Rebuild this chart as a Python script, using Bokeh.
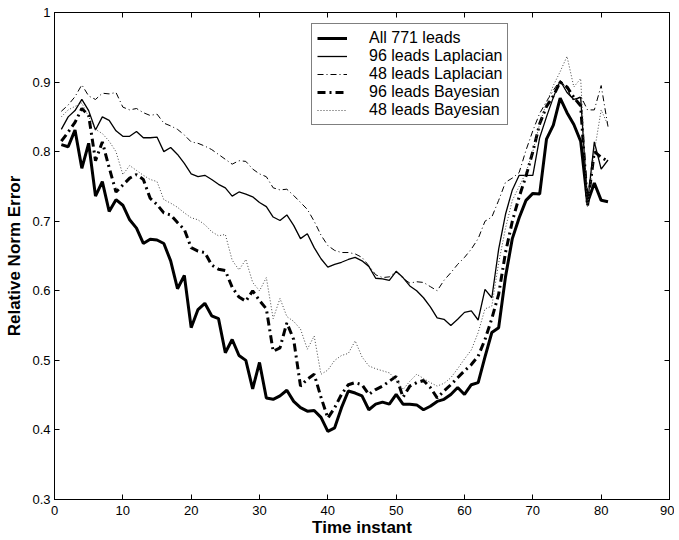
from bokeh.plotting import figure
from bokeh.models import Range1d, FixedTicker, LinearAxis, Legend, LegendItem, ColumnDataSource
from bokeh.embed import file_html
from bokeh.resources import INLINE

t = list(range(1, 82))

all_771 = [0.810, 0.807, 0.831, 0.776, 0.812, 0.736, 0.757, 0.714, 0.731, 0.723,
           0.702, 0.690, 0.668, 0.674, 0.673, 0.668, 0.643, 0.603, 0.622, 0.547,
           0.573, 0.582, 0.564, 0.560, 0.511, 0.530, 0.507, 0.500, 0.459, 0.497,
           0.446, 0.444, 0.449, 0.457, 0.441, 0.432, 0.427, 0.428, 0.418, 0.398,
           0.403, 0.432, 0.456, 0.453, 0.449, 0.429, 0.437, 0.440, 0.437, 0.451,
           0.437, 0.437, 0.436, 0.429, 0.434, 0.441, 0.444, 0.451, 0.461, 0.451,
           0.465, 0.468, 0.505, 0.540, 0.547, 0.620, 0.675, 0.705, 0.730, 0.740,
           0.739, 0.818, 0.838, 0.877, 0.856, 0.839, 0.815, 0.727, 0.755, 0.730,
           0.728]

lap_96 = [0.832, 0.850, 0.859, 0.875, 0.859, 0.831, 0.850, 0.845, 0.830, 0.822,
          0.822, 0.829, 0.820, 0.820, 0.821, 0.800, 0.806, 0.796, 0.783, 0.768,
          0.764, 0.766, 0.760, 0.753, 0.748, 0.736, 0.742, 0.739, 0.735, 0.727,
          0.721, 0.706, 0.701, 0.709, 0.694, 0.675, 0.682, 0.662, 0.646, 0.634,
          0.638, 0.641, 0.645, 0.648, 0.643, 0.635, 0.618, 0.617, 0.615, 0.628,
          0.619, 0.607, 0.600, 0.590, 0.577, 0.561, 0.559, 0.550, 0.559, 0.569,
          0.571, 0.558, 0.602, 0.590, 0.660, 0.710, 0.745, 0.766, 0.766, 0.766,
          0.820, 0.850, 0.878, 0.902, 0.885, 0.875, 0.878, 0.725, 0.814, 0.775,
          0.788]

lap_48 = [0.858, 0.867, 0.879, 0.896, 0.880, 0.875, 0.884, 0.883, 0.885, 0.864,
          0.860, 0.862, 0.856, 0.852, 0.854, 0.841, 0.837, 0.832, 0.824, 0.814,
          0.812, 0.808, 0.803, 0.796, 0.789, 0.782, 0.787, 0.786, 0.775, 0.768,
          0.764, 0.748, 0.745, 0.746, 0.737, 0.727, 0.717, 0.700, 0.680, 0.665,
          0.658, 0.655, 0.655, 0.653, 0.648, 0.636, 0.623, 0.619, 0.620, 0.628,
          0.618, 0.611, 0.613, 0.612, 0.606, 0.600, 0.615, 0.626, 0.638, 0.648,
          0.660, 0.675, 0.700, 0.706, 0.730, 0.756, 0.762, 0.770, 0.802, 0.830,
          0.855, 0.872, 0.888, 0.903, 0.890, 0.872, 0.880, 0.860, 0.860, 0.895,
          0.836]

bay_96 = [0.815, 0.828, 0.842, 0.862, 0.852, 0.787, 0.814, 0.777, 0.742, 0.752,
          0.762, 0.767, 0.760, 0.733, 0.724, 0.712, 0.709, 0.698, 0.688, 0.662,
          0.657, 0.655, 0.637, 0.631, 0.629, 0.605, 0.591, 0.585, 0.600, 0.586,
          0.574, 0.513, 0.518, 0.554, 0.530, 0.463, 0.473, 0.480, 0.447, 0.417,
          0.432, 0.451, 0.465, 0.468, 0.465, 0.451, 0.458, 0.463, 0.470, 0.477,
          0.447, 0.463, 0.468, 0.471, 0.461, 0.446, 0.456, 0.465, 0.475, 0.485,
          0.494, 0.506, 0.530, 0.560, 0.595, 0.655, 0.700, 0.735, 0.765, 0.800,
          0.840, 0.865, 0.880, 0.900, 0.893, 0.878, 0.866, 0.722, 0.800, 0.792,
          0.786]

bay_48 = [0.850, 0.860, 0.865, 0.870, 0.850, 0.832, 0.826, 0.815, 0.800, 0.767,
          0.780, 0.773, 0.766, 0.760, 0.757, 0.731, 0.726, 0.720, 0.712, 0.705,
          0.702, 0.695, 0.685, 0.679, 0.681, 0.644, 0.630, 0.645, 0.612, 0.600,
          0.619, 0.560, 0.589, 0.563, 0.556, 0.545, 0.516, 0.535, 0.480, 0.486,
          0.500, 0.507, 0.510, 0.528, 0.505, 0.492, 0.488, 0.485, 0.482, 0.472,
          0.458, 0.470, 0.480, 0.474, 0.468, 0.463, 0.467, 0.475, 0.488, 0.502,
          0.515, 0.540, 0.574, 0.578, 0.640, 0.690, 0.730, 0.750, 0.770, 0.800,
          0.840, 0.870, 0.895, 0.915, 0.937, 0.893, 0.905, 0.720, 0.800, 0.860,
          0.838]

labels = ["All 771 leads", "96 leads Laplacian", "48 leads Laplacian",
          "96 leads Bayesian", "48 leads Bayesian"]

x_ticks = [0, 10, 20, 30, 40, 50, 60, 70, 80, 90]
y_ticks = [0.3, 0.4, 0.5, 0.6, 0.7, 0.8, 0.9, 1.0]

FONT = "Liberation Sans"

p = figure(width=674, height=539, x_range=Range1d(0, 90), y_range=Range1d(0.3, 1.0),
           output_backend="svg", toolbar_location=None,
           min_border_left=54, min_border_right=5, min_border_top=12, min_border_bottom=38)

p.grid.visible = False
p.outline_line_color = "black"
p.outline_line_width = 1
p.background_fill_color = "white"

src = ColumnDataSource(dict(t=t, a=all_771, b=lap_96, c=lap_48, d=bay_96, e=bay_48))

r1 = p.line("t", "a", source=src, line_color="black", line_width=3)
r2 = p.line("t", "b", source=src, line_color="black", line_width=1.3)
r3 = p.line("t", "c", source=src, line_color="black", line_width=1, line_dash="6 3 1 3")
r4 = p.line("t", "d", source=src, line_color="black", line_width=3, line_dash="8 4 2 4")
r5 = p.line("t", "e", source=src, line_color="#444444", line_width=1, line_dash="1 2")

for ax in (p.xaxis[0], p.yaxis[0]):
    ax.major_tick_in = 5
    ax.major_tick_out = 0
    ax.minor_tick_line_color = None
    ax.major_label_text_font = FONT
    ax.major_label_text_font_size = "13px"
    ax.major_label_text_color = "black"
    ax.axis_label_text_font = FONT
    ax.axis_label_text_font_size = "17px"
    ax.axis_label_text_font_style = "bold"
    ax.axis_label_text_color = "black"
    ax.axis_line_color = "black"

p.xaxis[0].ticker = FixedTicker(ticks=x_ticks)
p.yaxis[0].ticker = FixedTicker(ticks=y_ticks)
p.yaxis[0].major_label_overrides = {1.0: "1", 1: "1"}
p.xaxis[0].axis_label = "Time instant"
p.yaxis[0].axis_label = "Relative Norm Error"
p.xaxis[0].major_label_standoff = 6
p.xaxis[0].axis_label_standoff = 0
p.yaxis[0].major_label_standoff = 4
p.yaxis[0].axis_label_standoff = 5

top_ax = LinearAxis(ticker=FixedTicker(ticks=x_ticks), major_tick_in=5, major_tick_out=0,
                    minor_tick_line_color=None, major_label_text_font_size="0px",
                    major_label_text_color=None,
                    major_label_standoff=0, axis_line_color="black")
right_ax = LinearAxis(ticker=FixedTicker(ticks=y_ticks), major_tick_in=5, major_tick_out=0,
                      minor_tick_line_color=None, major_label_text_font_size="0px",
                      major_label_text_color=None,
                      major_label_standoff=0, axis_line_color="black")
p.add_layout(top_ax, "above")
p.add_layout(right_ax, "right")

legend = Legend(items=[LegendItem(label=labels[0], renderers=[r1]),
                       LegendItem(label=labels[1], renderers=[r2]),
                       LegendItem(label=labels[2], renderers=[r3]),
                       LegendItem(label=labels[3], renderers=[r4]),
                       LegendItem(label=labels[4], renderers=[r5])],
                location=(257, 374))
legend.border_line_color = "black"
legend.border_line_width = 1
legend.background_fill_color = "white"
legend.background_fill_alpha = 1
legend.padding = 5
legend.spacing = 0
legend.margin = 0
legend.glyph_height = 18
legend.label_height = 18
legend.glyph_width = 30
legend.label_standoff = 22
legend.label_text_font = FONT
legend.label_text_font_size = "16px"
legend.label_text_color = "black"
p.add_layout(legend, "center")

open("out.html", "w").write(file_html(p, INLINE))
